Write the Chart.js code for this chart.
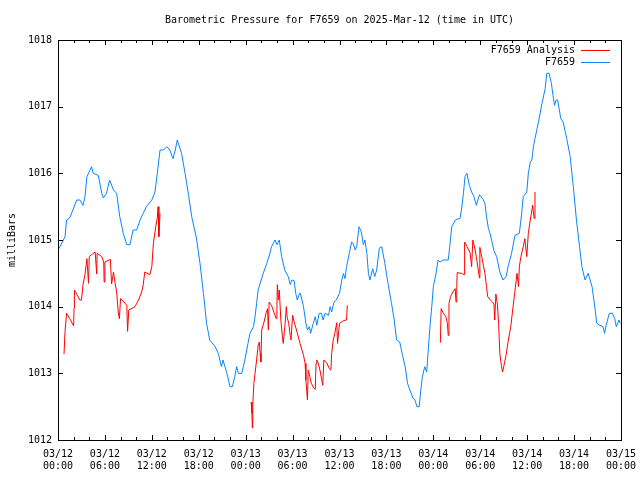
<!DOCTYPE html>
<html>
<head>
<meta charset="utf-8">
<script src="https://cdn.jsdelivr.net/npm/chart.js@4.4.1/dist/chart.umd.min.js"></script>
<style>
  body { margin: 0; background: #fff; }
  canvas { display: block; }
</style>
</head>
<body>
<canvas id="graph_results" width="640" height="480"></canvas>
<script>
// hours since 03/12 00:00 UTC and pressure in millibars

// station F7659
let blueHours = [0, 0.26, 0.9, 1.1, 1.5, 2, 2.4, 2.8, 3.2, 3.45, 3.7, 4.3, 4.5, 5.15, 5.6, 5.8, 6.2, 6.6, 7.1, 7.5,
  7.9, 8.35, 8.8, 9.2, 9.6, 10.06, 10.5, 10.9, 11.3, 12, 12.4, 12.7, 13.05, 13.5, 13.9, 14.3, 14.7, 15, 15.25, 15.8,
  16.25, 16.7, 17.1, 17.7, 18.16, 18.6, 19, 19.4, 20.1, 20.5, 20.9, 21.1, 21.6, 22, 22.3, 22.6, 22.85, 23.06, 23.5, 23.9,
  24.3, 24.55, 25, 25.2, 25.4, 25.6, 25.9, 26.25, 26.7, 27.1, 27.3, 27.75, 28, 28.3, 28.6, 29, 29.45, 29.7, 29.9, 30.2,
  30.4, 30.6, 30.9, 31, 31.4, 31.7, 31.9, 32.15, 32.3, 32.65, 32.9, 33.1, 33.4, 33.7, 33.9, 34.15, 34.6, 34.8, 35, 35.3,
  35.6, 36, 36.3, 36.5, 36.7, 36.9, 37.25, 37.55, 37.75, 38, 38.2, 38.5, 38.8, 39.05, 39.25, 39.5, 39.7, 39.9, 40.25, 40.5,
  40.75, 41.1, 41.4, 41.8, 42.2, 42.65, 43, 43.3, 43.7, 44.1, 44.4, 44.7, 45, 45.4, 45.65, 45.9, 46.2, 46.4, 46.6, 46.9,
  47.15, 47.35, 47.6, 47.8, 48, 48.35, 48.6, 48.85, 49.3, 49.9, 50.1, 50.35, 50.9, 51.4, 51.6, 51.85, 52.05, 52.3, 52.6, 52.9,
  53.2, 53.5, 53.9, 54.35, 54.6, 54.8, 55.05, 55.25, 55.45, 55.75, 56.1, 56.5, 56.9, 57.3, 57.6, 58, 58.45, 59, 59.3, 59.5,
  59.95, 60.15, 60.4, 60.6, 60.8, 61, 61.5, 61.9, 62.3, 62.5, 62.8, 63.1, 63.3, 63.5, 63.7, 63.9, 64.3, 64.6, 65.06, 65.5,
  65.9, 66.3, 66.7, 67, 67.4, 67.8, 68.3, 68.7, 68.9, 69.3, 69.7, 69.9, 70.1, 70.5, 70.9, 71.2, 71.4, 71.75, 71.9];
let blueValues = [1014.85, 1014.9, 1015.05, 1015.3, 1015.33, 1015.48, 1015.6, 1015.6, 1015.52, 1015.65, 1015.95, 1016.1, 1016.0, 1015.97, 1015.7, 1015.63, 1015.7, 1015.9, 1015.75, 1015.7,
  1015.35, 1015.1, 1014.93, 1014.93, 1015.15, 1015.15, 1015.3, 1015.4, 1015.5, 1015.6, 1015.72, 1016.0, 1016.35, 1016.35, 1016.4, 1016.35, 1016.22, 1016.35, 1016.5, 1016.3,
  1016.0, 1015.67, 1015.35, 1015.03, 1014.65, 1014.2, 1013.75, 1013.5, 1013.4, 1013.3, 1013.1, 1013.2, 1013.0, 1012.8, 1012.8, 1012.95, 1013.1, 1013.0, 1013.0, 1013.2,
  1013.45, 1013.6, 1013.7, 1013.85, 1014.05, 1014.25, 1014.37, 1014.5, 1014.65, 1014.8, 1014.9, 1015.0, 1014.93, 1015.0, 1014.75, 1014.55, 1014.45, 1014.33, 1014.4, 1014.39,
  1014.2, 1014.1, 1014.2, 1014.2, 1014.0, 1013.75, 1013.65, 1013.7, 1013.6, 1013.75, 1013.85, 1013.72, 1013.9, 1013.9, 1013.8, 1013.9, 1013.87, 1014.0, 1013.92, 1014.07,
  1014.1, 1014.2, 1014.4, 1014.5, 1014.42, 1014.6, 1014.8, 1014.97, 1014.95, 1014.85, 1014.9, 1015.2, 1015.12, 1014.93, 1015.0, 1014.8, 1014.5, 1014.4, 1014.57, 1014.45,
  1014.55, 1014.88, 1014.9, 1014.65, 1014.35, 1014.05, 1013.8, 1013.5, 1013.47, 1013.25, 1013.1, 1012.85, 1012.75, 1012.63, 1012.6, 1012.5, 1012.5, 1012.75, 1012.95, 1013.1,
  1013.02, 1013.35, 1013.75, 1014.0, 1014.3, 1014.5, 1014.7, 1014.67, 1014.7, 1014.7, 1014.9, 1015.2, 1015.31, 1015.32, 1015.45, 1015.7, 1015.95, 1016.0, 1015.82, 1015.72,
  1015.65, 1015.52, 1015.68, 1015.61, 1015.55, 1015.35, 1015.17, 1015.1, 1015.0, 1014.84, 1014.75, 1014.52, 1014.4, 1014.45, 1014.62, 1014.8, 1015.07, 1015.1, 1015.4, 1015.65,
  1015.72, 1016.0, 1016.17, 1016.2, 1016.4, 1016.52, 1016.8, 1017.05, 1017.27, 1017.5, 1017.5, 1017.35, 1017.17, 1017.02, 1017.1, 1017.1, 1016.82, 1016.77, 1016.52, 1016.25,
  1015.8, 1015.3, 1014.9, 1014.6, 1014.4, 1014.5, 1014.3, 1013.95, 1013.75, 1013.72, 1013.7, 1013.6, 1013.72, 1013.9, 1013.9, 1013.82, 1013.7, 1013.8, 1013.75];

// F7659 Analysis (null = no analysis -> gap in the line)
let redHours = [0.77, 0.9, 1.1, 1.5, 2, 2.05, 2.1, 2.8, 3, 3.2, 3.45, 3.7, 3.9, 4, 4.3, 4.75, 4.95, 5, 5.6, 5.85,
  5.9, 6, 6.7, 6.85, 7.1, 7.3, 7.5, 7.7, 7.85, 8, 8.6, 8.8, 8.9, 9.05, 9.85, 10.3, 10.7, 10.9, 11.1, 11.75,
  12, 12.2, 12.5, 12.7, 12.8, 12.9, 13.05,
  18,
  24.7, 24.8, 24.85, 24.9, 25.05, 25.2, 25.4, 25.6, 25.75, 25.85, 25.95, 26.05, 26.35, 26.6, 26.8, 26.9, 27, 27.3, 27.6, 27.9,
  28, 28.05, 28.2, 28.3, 28.5, 28.7, 28.8, 29.05, 29.2, 29.3, 29.5, 29.7, 29.8, 30, 30.2, 30.5, 30.95, 31.4, 31.6, 31.7,
  31.9, 32, 32.2, 32.4, 32.7, 32.9, 33, 33.1, 33.3, 33.5, 33.7, 33.85, 34, 34.4, 34.7, 34.9, 35, 35.2, 35.4, 35.65,
  35.75, 36, 36.5, 36.9, 37,
  42,
  48.9, 49, 49.2, 49.6, 49.8, 49.9, 50, 50.2, 50.5, 50.8, 50.9, 51, 51.05, 51.6, 51.95, 52, 52.3, 52.7, 52.9, 53.05,
  53.3, 53.5, 53.9, 53.95, 54.2, 54.4, 54.6, 54.8, 54.95, 55.45, 55.75, 55.85, 56, 56.2, 56.35, 56.5, 56.7, 56.85, 57, 57.3,
  57.6, 57.9, 58.15, 58.4, 58.7, 58.9, 59, 59.2, 59.5, 59.7, 59.95, 60.15, 60.4, 60.7, 60.9, 61];
let redValues = [1013.29, 1013.63, 1013.9, 1013.82, 1013.71, 1013.98, 1014.25, 1014.1, 1014.1, 1014.33, 1014.48, 1014.72, 1014.35, 1014.75, 1014.78, 1014.82, 1014.49, 1014.8, 1014.75, 1014.67,
  1014.37, 1014.67, 1014.71, 1014.34, 1014.52, 1014.35, 1014.22, 1013.92, 1013.82, 1014.12, 1014.05, 1014.02, 1013.63, 1013.95, 1014.0, 1014.1, 1014.22, 1014.33, 1014.52, 1014.48,
  1014.6, 1014.95, 1015.2, 1015.33, 1015.5, 1015.05, 1015.4,
  null,
  1012.57, 1012.4, 1012.18, 1012.5, 1012.85, 1013.0, 1013.2, 1013.42, 1013.47, 1013.3, 1013.17, 1013.65, 1013.77, 1013.9, 1013.97, 1013.65, 1014.07, 1014.02, 1013.92, 1013.82,
  1014.02, 1014.33, 1014.1, 1014.25, 1013.8, 1013.55, 1013.45, 1013.75, 1014.0, 1013.85, 1013.75, 1013.57, 1013.5, 1013.87, 1013.77, 1013.65, 1013.45, 1013.27, 1013.15, 1012.9,
  1012.6, 1013.05, 1012.95, 1012.85, 1012.78, 1012.76, 1013.15, 1013.2, 1013.15, 1013.05, 1012.92, 1012.82, 1013.2, 1013.15, 1013.07, 1013.05, 1013.3, 1013.5, 1013.6, 1013.76,
  1013.45, 1013.75, 1013.79, 1013.8, 1014.02,
  null,
  1013.46, 1013.97, 1013.92, 1013.85, 1013.75, 1013.57, 1014.05, 1014.15, 1014.22, 1014.27, 1014.07, 1014.3, 1014.51, 1014.5, 1014.48, 1014.97, 1014.9, 1014.81, 1014.6, 1015.0,
  1014.88, 1014.75, 1014.43, 1014.89, 1014.74, 1014.62, 1014.5, 1014.3, 1014.15, 1014.08, 1014.04, 1013.8, 1014.19, 1014.03, 1013.75, 1013.3, 1013.12, 1013.02, 1013.1, 1013.27,
  1013.5, 1013.7, 1013.95, 1014.2, 1014.5, 1014.3, 1014.6, 1014.75, 1014.9, 1015.02, 1014.75, 1015.1, 1015.3, 1015.52, 1015.32, 1015.72];

// x tick labels, one every 6 hours
let tickLabels = [["03/12", "00:00"], ["03/12", "06:00"], ["03/12", "12:00"], ["03/12", "18:00"],
  ["03/13", "00:00"], ["03/13", "06:00"], ["03/13", "12:00"], ["03/13", "18:00"],
  ["03/14", "00:00"], ["03/14", "06:00"], ["03/14", "12:00"], ["03/14", "18:00"], ["03/15", "00:00"]];

let seriesNames = ["F7659 Analysis", "F7659"];
let seriesColors = ["#ff0000", "#0a84ff"];

function toPoints(xs, ys) {
    return xs.map(function(h, i) { return {x: h, y: ys[i]}; });
}

let monoFont = "'DejaVu Sans Mono', 'Liberation Mono', monospace";

// frame, inward ticks and the gnuplot style key
let gnuFrame = {
    id: "gnuFrame",
    afterDraw: function(chart) {
        let ctx = chart.ctx;
        let a = chart.chartArea;
        let xs = chart.scales.x;
        let ys = chart.scales.y;
        ctx.save();
        ctx.strokeStyle = "#000";
        ctx.lineWidth = 1;
        ctx.beginPath();
        for (let h = 0; h <= 72; h += 2) {
            let px = Math.round(xs.getPixelForValue(h)) + 0.5;
            let len = (h % 6 === 0) ? 5 : 3;
            ctx.moveTo(px, a.bottom); ctx.lineTo(px, a.bottom - len);
            ctx.moveTo(px, a.top); ctx.lineTo(px, a.top + len);
        }
        for (let v = 1012; v <= 1018; v++) {
            let py = Math.round(ys.getPixelForValue(v)) + 0.5;
            ctx.moveTo(a.left, py); ctx.lineTo(a.left + 5, py);
            ctx.moveTo(a.right, py); ctx.lineTo(a.right - 5, py);
        }
        ctx.stroke();
        ctx.strokeRect(Math.round(a.left) + 0.5, Math.round(a.top) + 0.5, Math.round(a.right - a.left), Math.round(a.bottom - a.top));

        // key
        ctx.font = "10px " + monoFont;
        ctx.fillStyle = "#000";
        ctx.textAlign = "right";
        ctx.textBaseline = "middle";
        for (let i = 0; i < seriesNames.length; i++) {
            let ky = 50 + i * 12;
            ctx.fillText(seriesNames[i], 575, ky);
            ctx.strokeStyle = seriesColors[i];
            ctx.beginPath();
            ctx.moveTo(581, ky + 0.5);
            ctx.lineTo(610, ky + 0.5);
            ctx.stroke();
        }
        ctx.restore();
    }
};

let ctx = document.getElementById("graph_results").getContext("2d");
let chart = new Chart(ctx, {
    type: "line",
    data: {
        datasets: [{
            label: seriesNames[0],
            data: toPoints(redHours, redValues),
            borderColor: seriesColors[0],
            borderWidth: 1,
            pointRadius: 0,
            spanGaps: false,
            tension: 0
        }, {
            label: seriesNames[1],
            data: toPoints(blueHours, blueValues),
            borderColor: seriesColors[1],
            borderWidth: 1,
            pointRadius: 0,
            tension: 0
        }]
    },
    options: {
        responsive: false,
        animation: false,
        devicePixelRatio: 1,
        layout: {padding: {left: 0, right: 19, top: 0, bottom: 0}},
        plugins: {
            legend: {display: false},
            tooltip: {enabled: false},
            title: {
                display: true,
                fullSize: false,
                text: "Barometric Pressure for F7659 on 2025-Mar-12 (time in UTC)",
                color: "#000",
                font: {family: monoFont, size: 10, weight: "normal", lineHeight: 1.2},
                padding: {top: 14, bottom: 14}
            }
        },
        scales: {
            x: {
                type: "linear",
                min: 0,
                max: 72,
                grid: {display: false, drawTicks: false},
                border: {display: false},
                ticks: {
                    stepSize: 6,
                    autoSkip: false,
                    maxRotation: 0,
                    padding: 8,
                    color: "#000",
                    font: {family: monoFont, size: 10, lineHeight: 1.2},
                    callback: function(v) { return tickLabels[v / 6]; }
                },
                afterFit: function(scale) {
                    scale.height = 40;
                    // keep the plot box where the layout padding puts it
                    scale.paddingLeft = 0;
                    scale.paddingRight = 0;
                }
            },
            y: {
                min: 1012,
                max: 1018,
                grid: {display: false, drawTicks: false},
                border: {display: false},
                title: {
                    display: true,
                    text: "milliBars",
                    color: "#000",
                    font: {family: monoFont, size: 10, lineHeight: 1.2},
                    padding: {top: 6, bottom: 0}
                },
                ticks: {
                    stepSize: 1,
                    padding: 6,
                    color: "#000",
                    font: {family: monoFont, size: 10},
                    callback: function(v) { return String(v); }
                },
                afterFit: function(scale) { scale.width = 58; }
            }
        }
    },
    plugins: [gnuFrame]
});
</script>
</body>
</html>
